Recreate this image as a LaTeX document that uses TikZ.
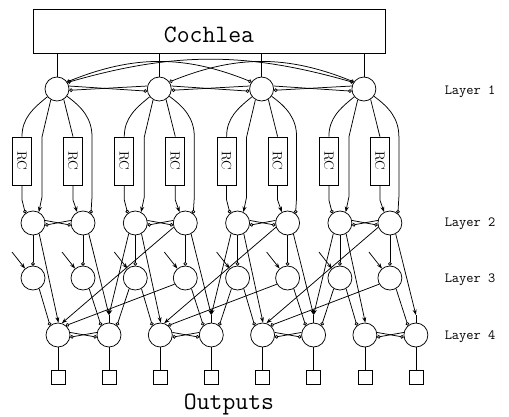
\documentclass[tikz,border=0pt]{standalone}
\usepackage{fontspec}
\usepackage{graphicx}
\usetikzlibrary{arrows.meta}
\begin{document}
\begin{tikzpicture}[x=1pt,y=-1pt,line width=0.75pt,
  neuron/.style={circle,draw,minimum size=24pt,inner sep=0pt},
  rcbox/.style={draw,minimum width=19pt,minimum height=48pt,inner sep=0pt},
  outbox/.style={draw,minimum size=14pt,inner sep=0pt},
  exc/.style={arrows={-Stealth[length=5.5pt,width=4pt]}},
  inh/.style={arrows={-Circle[open,length=3.6pt]}},
  inhtwo/.style={arrows={Circle[open,length=3.6pt]-Circle[open,length=3.6pt]}},
  bigtxt/.style={font=\fontsize{25}{25}\ttfamily,inner sep=0pt},
  lay/.style={font=\fontsize{14}{14}\ttfamily,inner sep=0pt,anchor=base}]
\useasboundingbox (0,0) rectangle (509,416);

% cochlea
\node[draw,minimum width=352pt,minimum height=44pt,inner sep=0pt] (coch) at (209,31) {};
\node[bigtxt,anchor=base] (cochtxt) at (209,42) {Cochlea};

\foreach \k in {0,1,2,3}{
  \pgfmathsetmacro{\cx}{57+102.3*\k}
  \node[neuron] (L1\k) at (\cx,89) {};
  \node[rcbox] (RCL\k) at (\cx-35,161) {\rotatebox{-90}{\fontsize{13.5}{14}\selectfont RC}};
  \node[rcbox] (RCR\k) at (\cx+16,161) {\rotatebox{-90}{\fontsize{13.5}{14}\selectfont RC}};
  \coordinate (DLa\k) at (\cx-15,137);
  \coordinate (DLb\k) at (\cx-15,197);
  \coordinate (DRa\k) at (\cx+35,137);
  \coordinate (DRb\k) at (\cx+35,197);
  \coordinate (RLb\k) at (\cx-35,200);
  \coordinate (RRb\k) at (\cx+16,200);
  \node[neuron] (L2A\k) at (\cx-24,223) {};
  \node[neuron] (L2B\k) at (\cx+26,223) {};
  \node[neuron] (L3A\k) at (\cx-24,278) {};
  \node[neuron] (L3B\k) at (\cx+26,278) {};
  \node[neuron] (L4A\k) at (\cx+1,335) {};
  \node[neuron] (L4B\k) at (\cx+52,335) {};
  \node[outbox] (OA\k) at (\cx+1,377) {};
  \node[outbox] (OB\k) at (\cx+52,377) {};
  \coordinate (XA\k) at (\cx-45,252);
  \coordinate (XB\k) at (\cx+5,252);
  \coordinate (PB\k) at (\cx+52,315);
  % cochlea to layer 1
  \draw (coch.south -| L1\k) -- (L1\k.north);
  % layer 1 to RC / direct
  \draw (L1\k.219) to[out=219,in=90] (RCL\k.north);
  \draw[exc] (L1\k.240) -- (DLa\k) -- (DLb\k) -- (L2A\k.62);
  \draw (L1\k.303) -- (RCR\k.north);
  \draw[inh] (L1\k.324) to[out=-36,in=90] (DRa\k) -- (DRb\k) -- (L2B\k.50);
  \draw[inh] (RCL\k.south) -- (RLb\k) -- (L2A\k.128);
  \draw[exc] (RCR\k.south) -- (RRb\k) -- (L2B\k.118);
  % layer 2 lateral
  \draw[inh] (L2A\k.12) -- (L2B\k.190);
  \draw[inh] (L2B\k.168) -- (L2A\k.-10);
  % layer 2 to layer 3
  \draw[inh] (L2A\k.south) -- (L3A\k.north);
  \draw[inh] (L2B\k.south) -- (L3B\k.north);
  \draw[exc] (XA\k) -- (L3A\k.130);
  \draw[exc] (XB\k) -- (L3B\k.130);
  % to layer 4 within channel
  \draw[exc] (L2A\k.-60) -- (L4A\k.88);
  \draw[inh] (L3A\k.-60) -- (L4A\k.130);
  \draw[exc] (L2B\k.-62) -- (PB\k);
  \draw (PB\k) -- (L4B\k.north);
  \draw[inh] (L3B\k.-60) -- (L4B\k.130);
  % layer 4 lateral
  \draw[inh] (L4A\k.12) -- (L4B\k.190);
  \draw[inh] (L4B\k.168) -- (L4A\k.-10);
  % outputs
  \draw (L4A\k.south) -- (OA\k.north);
  \draw (L4B\k.south) -- (OB\k.north);
}

% cross-channel connections to layer 4
\foreach \k/\n in {0/1,1/2,2/3}{
  \draw[exc] (L2B\n.200) -- (L4A\k.72);
  \draw[inh] (L3B\n.210) -- (L4A\k.50);
  \draw[exc] (L2A\n.238) -- (PB\k);
  \draw[inh] (L3A\n.240) -- (L4B\k.50);
}

% layer 1 lateral inhibition
\foreach \i/\j in {0/1,1/2,2/3}{
  \draw[inh] (L1\i.14) -- (L1\j.190);
  \draw[inh] (L1\j.166) -- (L1\i.-6);
}
\draw[inhtwo] (L10.35) to[out=22,in=158] (L12.145);
\draw[inhtwo] (L11.35) to[out=22,in=158] (L13.145);
\draw[inhtwo] (L10.32) to[out=16,in=164] (L13.148);

% labels
\node[lay] (lab1) at (470,94) {Layer 1};
\node[lay] (lab2) at (470,226) {Layer 2};
\node[lay] (lab3) at (470,282) {Layer 3};
\node[lay] (lab4) at (470,339) {Layer 4};
\node[bigtxt,anchor=base] (outl) at (229,409) {Outputs};
\end{tikzpicture}
\end{document}
